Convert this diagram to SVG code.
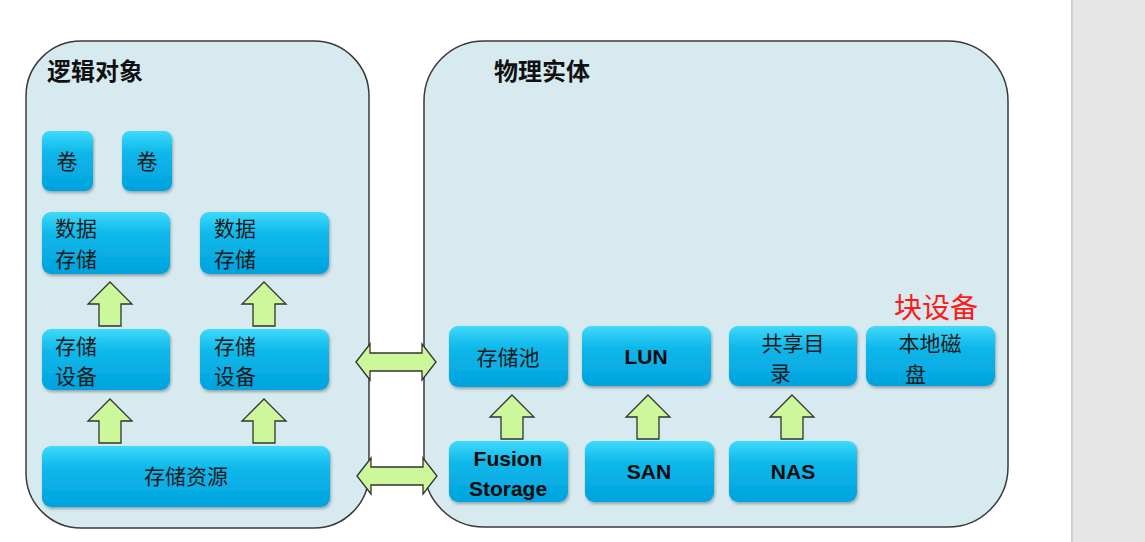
<svg xmlns="http://www.w3.org/2000/svg" width="1145" height="542" viewBox="0 0 1145 542">
<defs>
<linearGradient id="g" x1="0" y1="0" x2="0" y2="1"><stop offset="0" stop-color="#3fd9fb"/><stop offset="0.35" stop-color="#10b8ea"/><stop offset="1" stop-color="#00a3df"/></linearGradient>
<filter id="sh" x="-10%" y="-10%" width="130%" height="140%"><feDropShadow dx="1" dy="2" stdDeviation="1.5" flood-color="#000" flood-opacity="0.3"/></filter>
<path id="up" d="M0,-22 L22,0 L11,0 L11,22 L-11,22 L-11,0 L-22,0 Z"/>
<path id="dbl" d="M-40,0 L-26,-18 L-26,-9 L26,-9 L26,-18 L40,0 L26,18 L26,9 L-26,9 L-26,18 Z"/>
</defs>
<style>
.n{fill:url(#g);filter:url(#sh)}
.t{font-family:"Noto Sans CJK SC","Liberation Sans",sans-serif;font-size:21px;fill:#1a1a1a}
.e{font-family:"Liberation Sans",sans-serif;font-size:21px;font-weight:bold;fill:#0a0a0a}
.h{font-family:"Noto Sans CJK SC",sans-serif;font-size:24px;font-weight:bold;fill:#111}
.p{fill:#d6eaf0;stroke:#3a3a3a;stroke-width:1.5}
.a{fill:#ccf79a;stroke:#333;stroke-width:1.3}
</style>
<rect width="1145" height="542" fill="#fff"/>
<rect x="1072" y="0" width="73" height="542" fill="#e6e6e6"/>
<line x1="1072" y1="0" x2="1072" y2="542" stroke="#d0d0d0" stroke-width="2"/>
<g id="panel-left"><rect class="p" x="26" y="41" width="343" height="487" rx="55"/><text class="h" x="47" y="80">逻辑对象</text></g>
<g id="panel-right"><rect class="p" x="424" y="41" width="584" height="486" rx="60"/><text class="h" x="494" y="80">物理实体</text></g>
<g id="connectors">
<use href="#up" class="a" x="110" y="304"/><use href="#up" class="a" x="264" y="304"/>
<use href="#up" class="a" x="110" y="421"/><use href="#up" class="a" x="264" y="421"/>
<use href="#up" class="a" x="512" y="417"/><use href="#up" class="a" x="648" y="417"/><use href="#up" class="a" x="792" y="417"/>
<use href="#dbl" class="a" x="396" y="362"/><use href="#dbl" class="a" x="397" y="476"/>
</g>
<g id="n1"><rect class="n" x="42" y="131" width="51" height="60" rx="8"/><text class="t" x="67" y="169" text-anchor="middle">卷</text></g>
<g id="n2"><rect class="n" x="122" y="131" width="50" height="60" rx="8"/><text class="t" x="147" y="169" text-anchor="middle">卷</text></g>
<g id="n3"><rect class="n" x="42" y="212" width="128" height="62" rx="9"/><text class="t" x="55" y="236">数据</text><text class="t" x="55" y="267">存储</text></g>
<g id="n4"><rect class="n" x="200" y="212" width="129" height="62" rx="9"/><text class="t" x="214" y="236">数据</text><text class="t" x="214" y="267">存储</text></g>
<g id="n5"><rect class="n" x="42" y="329" width="128" height="61" rx="9"/><text class="t" x="55" y="354">存储</text><text class="t" x="55" y="384">设备</text></g>
<g id="n6"><rect class="n" x="200" y="329" width="129" height="61" rx="9"/><text class="t" x="214" y="354">存储</text><text class="t" x="214" y="384">设备</text></g>
<g id="n7"><rect class="n" x="42" y="446" width="288" height="61" rx="9"/><text class="t" x="186" y="484" text-anchor="middle">存储资源</text></g>
<g id="n8"><rect class="n" x="449" y="326" width="119" height="61" rx="9"/><text class="t" x="508" y="365" text-anchor="middle">存储池</text></g>
<g id="n9"><rect class="n" x="582" y="326" width="129" height="60" rx="9"/><text class="e" x="646" y="364" text-anchor="middle">LUN</text></g>
<g id="n10"><rect class="n" x="729" y="326" width="128" height="60" rx="9"/><text class="t" x="793" y="351" text-anchor="middle">共享目</text><text class="t" x="770" y="381">录</text></g>
<g id="n11"><rect class="n" x="866" y="326" width="129" height="60" rx="9"/><text class="t" x="930" y="351" text-anchor="middle">本地磁</text><text class="t" x="905" y="382">盘</text></g>
<g id="n12"><rect class="n" x="449" y="441" width="119" height="61" rx="9"/><text class="e" x="508" y="466" text-anchor="middle">Fusion</text><text class="e" x="508" y="496" text-anchor="middle">Storage</text></g>
<g id="n13"><rect class="n" x="585" y="441" width="129" height="61" rx="9"/><text class="e" x="649" y="479" text-anchor="middle">SAN</text></g>
<g id="n14"><rect class="n" x="729" y="441" width="128" height="61" rx="9"/><text class="e" x="793" y="479" text-anchor="middle">NAS</text></g>
<text x="936" y="318" text-anchor="middle" font-family="Noto Sans CJK SC,sans-serif" font-size="28" fill="#ff1a1a">块设备</text>
</svg>
